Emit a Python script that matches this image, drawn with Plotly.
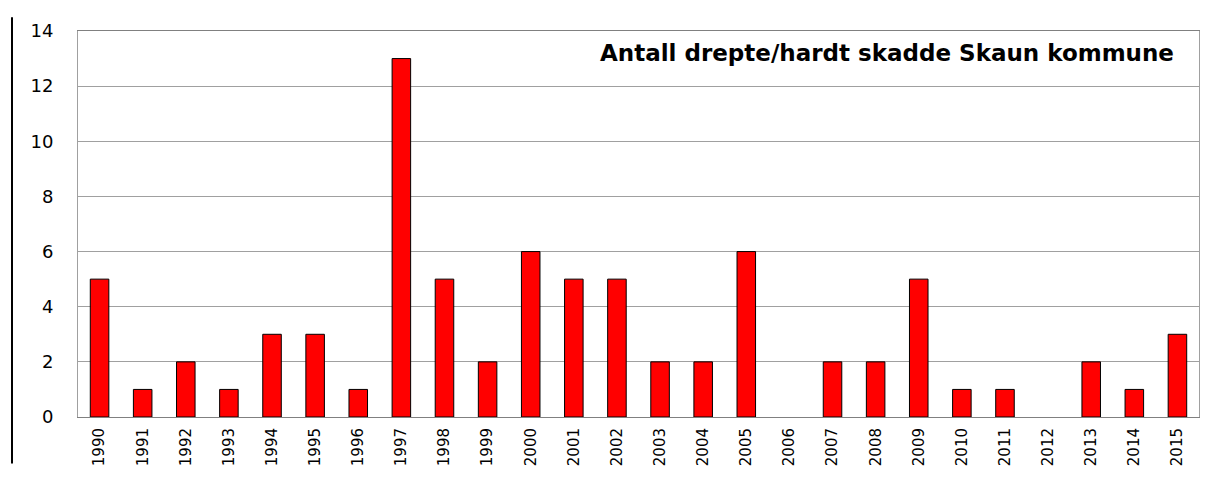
import plotly.graph_objects as go

years = [str(y) for y in range(1990, 2016)]
values = [5, 1, 2, 1, 3, 3, 1, 13, 5, 2, 6, 5, 5, 2, 2, 6, 0, 2, 2, 5, 1, 1, 0, 2, 1, 3]
title_text = "Antall drepte/hardt skadde Skaun kommune"

fig = go.Figure()
fig.add_trace(go.Bar(
    x=years, y=values,
    marker=dict(color="#ff0000",
                line=dict(color="#000000", width=[1 if v > 0 else 0 for v in values])),
    width=0.43,
))

# page body has an 8px offset, so the figure is shifted accordingly
OFF = 8
W, H = 1221 - OFF, 478 - OFF
l, r, t, b = 78 - OFF, 22, 27 - OFF, 60
pw, ph = W - l - r, H - t - b
bottom = t + ph

def px(xs):
    return (xs - OFF - l) / pw

def py(ys):
    return (bottom - (ys - OFF)) / ph

fig.update_layout(
    width=W, height=H,
    margin=dict(l=l, r=r, t=t, b=b),
    paper_bgcolor="white", plot_bgcolor="white",
    showlegend=False,
    font=dict(family="DejaVu Sans, Arial, sans-serif", size=15, color="#000000"),
    xaxis=dict(
        type="category", tickangle=-90, showgrid=False,
        showline=True, linecolor="#808080", linewidth=1, mirror=True,
        ticks="outside", ticklen=4, tickcolor="rgba(0,0,0,0)",
        tickfont=dict(size=15),
    ),
    yaxis=dict(
        range=[0, 14], dtick=2, showgrid=True, gridcolor="#a0a0a0", gridwidth=1,
        showline=True, linecolor="#a0a0a0", linewidth=1, mirror=True,
        zeroline=False, ticklabelstandoff=20, tickfont=dict(size=18),
    ),
    annotations=[dict(
        text="<b>" + title_text + "</b>", xref="paper", yref="paper",
        x=px(1176), y=py(49), xanchor="right", yanchor="middle",
        showarrow=False, font=dict(size=23, color="#000000"),
    )],
    shapes=[dict(
        type="line", xref="paper", yref="paper",
        x0=px(12), x1=px(12),
        y0=py(465), y1=py(13),
        line=dict(color="#000000", width=2),
    )],
)

fig.write_html("out.html")
